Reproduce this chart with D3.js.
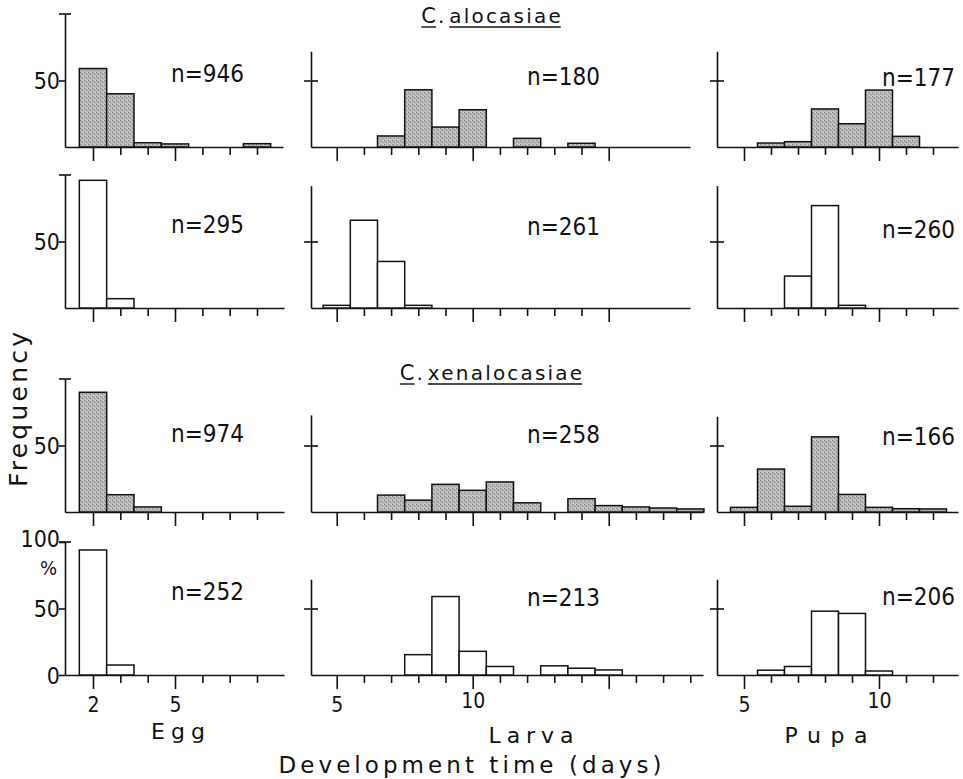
<!DOCTYPE html>
<html>
<head>
<meta charset="utf-8">
<script src="https://cdn.jsdelivr.net/npm/d3@7"></script>
<style>
  body { margin: 0; background: #fff; }
  svg { display: block; }
  .num { font-family: "Liberation Sans Narrow", "Arial Narrow", "DejaVu Sans Condensed", sans-serif; fill: #111; }
  .word { font-family: "DejaVu Sans", sans-serif; fill: #111; }
</style>
</head>
<body>
<svg id="chart"></svg>
<script>
// days (bar centres) per stage
const eggDays = [2, 3, 4, 5, 6, 7, 8];
const larvaDays = [5, 6, 7, 8, 9, 10, 11, 12, 13, 14, 15, 16, 17, 18];
const pupaDays = [5, 6, 7, 8, 9, 10, 11, 12];

// tick marks on the x axes
const eggTicks = [2, 3, 4, 5, 6, 7, 8];
const larvaTicksTop = [5, 6, 7, 8, 9, 10, 11, 12, 13, 14, 15];
const larvaTicksBottom = [5, 6, 7, 8, 9, 10, 11, 12, 13, 14, 15, 16, 17, 18];
const pupaTicks = [5, 6, 7, 8, 9, 10, 11, 12];

// frequency (%) - C. alocasiae (shaded, open), C. xenalocasiae (shaded, open)
const eggAlocasiaeShaded = [59, 40, 3.2, 2.3, 0, 0, 2.5];
const eggAlocasiaeOpen = [96, 7, 0, 0, 0, 0, 0];
const eggXenalocasiaeShaded = [90, 13, 3.8, 0, 0, 0, 0];
const eggXenalocasiaeOpen = [94, 7.5, 0, 0, 0, 0, 0];

const larvaAlocasiaeShaded = [0, 0, 8.3, 43, 15, 28, 0, 6.5, 0, 2.8, 0, 0, 0, 0];
const larvaAlocasiaeOpen = [2, 66, 35, 2, 0, 0, 0, 0, 0, 0, 0, 0, 0, 0];
const larvaXenalocasiaeShaded = [0, 0, 12.7, 8.9, 20.8, 16.3, 22.6, 6.9, 0, 10, 4.8, 3.8, 3, 2.3];
const larvaXenalocasiaeOpen = [0, 0, 0, 15.3, 59, 17.8, 6.4, 0, 6.9, 5.1, 3.8, 0, 0, 0];

const pupaAlocasiaeShaded = [0, 3, 4, 28.6, 17.5, 42.8, 8, 0];
const pupaAlocasiaeOpen = [0, 0, 24, 77, 2, 0, 0, 0];
const pupaXenalocasiaeShaded = [3.5, 32.3, 4.3, 56.5, 13.2, 3.5, 2.5, 2.3];
const pupaXenalocasiaeOpen = [0, 3.6, 6.4, 48, 46.3, 3, 0, 0];

// sample sizes
const eggN = [946, 295, 974, 252];
const larvaN = [180, 261, 258, 213];
const pupaN = [177, 260, 166, 206];

// layout
const width = 963, height = 779;
const rowBase = [147, 308, 512, 675];
const pxPer100 = 133;
const nLabelY = [[82, 85, 86], [233, 235, 238], [442, 443, 445], [600, 606, 605]];

const columns = [
  { days: eggDays, rows: [eggAlocasiaeShaded, eggAlocasiaeOpen, eggXenalocasiaeShaded, eggXenalocasiaeOpen],
    n: eggN, ticks: [eggTicks, eggTicks, eggTicks, eggTicks], major: [2, 5], labels: [2, 5],
    refDays: [2, 5], refPx: [93, 175], xStart: 65, xEnd: [283, 284, 284, 284], nX: 244,
    axisTop: [100, 100, 100, 100] },
  { days: larvaDays, rows: [larvaAlocasiaeShaded, larvaAlocasiaeOpen, larvaXenalocasiaeShaded, larvaXenalocasiaeOpen],
    n: larvaN, ticks: [larvaTicksTop, larvaTicksTop, larvaTicksBottom, larvaTicksBottom], major: [5, 10, 15], labels: [5, 10],
    refDays: [5, 10], refPx: [336.7, 472.7], xStart: 311, xEnd: [690, 690, 703, 703], nX: 600,
    axisTop: [72, 92, 73, 72] },
  { days: pupaDays, rows: [pupaAlocasiaeShaded, pupaAlocasiaeOpen, pupaXenalocasiaeShaded, pupaXenalocasiaeOpen],
    n: pupaN, ticks: [pupaTicks, pupaTicks, pupaTicks, pupaTicks], major: [5, 10], labels: [5, 10],
    refDays: [5, 10], refPx: [744, 879], xStart: 717, xEnd: [958, 958, 958, 958], nX: 955,
    axisTop: [72, 92, 72, 72] }
];

const svg = d3.select("#chart")
  .attr("width", width)
  .attr("height", height);

svg.append("rect")
  .attr("width", width)
  .attr("height", height)
  .attr("fill", "#fff");

// stippled grey fill
const pat = svg.append("defs").append("pattern")
  .attr("id", "stipple")
  .attr("width", 4)
  .attr("height", 4)
  .attr("patternUnits", "userSpaceOnUse");
pat.append("rect").attr("width", 4).attr("height", 4).attr("fill", "#b8b8b8");
[[0, 0, "#858585"], [2, 2, "#909090"], [3, 0, "#d6d6d6"], [1, 3, "#d2d2d2"], [1, 1, "#a0a0a0"]]
  .forEach(([px, py, c]) => pat.append("rect").attr("x", px).attr("y", py).attr("width", 1).attr("height", 1).attr("fill", c));

columns.forEach((col, ci) => {
  col.rows.forEach((values, ri) => {
    const base = rowBase[ri];
    const xEnd = col.xEnd[ri];
    const ref = d3.scaleLinear().domain(col.refDays).range(col.refPx);
    const x = d3.scaleLinear()
      .domain([ref.invert(col.xStart), ref.invert(xEnd)])
      .range([col.xStart, xEnd]);
    const y = d3.scaleLinear().domain([0, 100]).range([base, base - pxPer100]);
    const top = col.axisTop[ri];
    const yAxisScale = y.copy().domain([0, top]).range([base, y(top)]);
    const bottomRow = ri === 3;
    const g = svg.append("g");

    // x axis
    const gx = g.append("g")
      .attr("transform", `translate(0,${base})`)
      .call(d3.axisBottom(x)
        .tickValues(col.ticks[ri])
        .tickSize(8)
        .tickSizeOuter(0)
        .tickFormat(d => (bottomRow && col.labels.includes(d)) ? d : ""))
      .attr("font-family", null)
      .attr("font-size", null);
    gx.selectAll("path, line").attr("stroke", "#111").attr("stroke-width", 1.6);
    gx.selectAll(".tick line").filter(d => col.major.includes(d)).attr("y2", 14);
    gx.selectAll(".tick text")
      .attr("class", "num")
      .attr("dy", null)
      .attr("y", d => d >= 10 ? 33 : 37)
      .style("font-size", "21px");

    // y axis
    const yTicks = ci === 0 && bottomRow ? [0, 50, 100] : [50];
    const gy = g.append("g")
      .attr("transform", `translate(${col.xStart},0)`)
      .call(d3.axisLeft(yAxisScale)
        .tickValues(yTicks)
        .tickSize(6)
        .tickSizeOuter(0)
        .tickPadding(-1)
        .tickFormat(d => ci === 0 ? d : ""))
      .attr("font-family", null)
      .attr("font-size", null);
    gy.selectAll("path, line").attr("stroke", "#111").attr("stroke-width", 1.6);
    if (ci > 0) gy.selectAll(".tick line").attr("x1", 7).attr("x2", -7);
    gy.selectAll(".tick text")
      .attr("class", "num")
      .attr("dy", d => d === 100 ? "0.2em" : "0.36em")
      .style("font-size", "23px");
    if (ci === 0) {
      gy.append("line")
        .attr("x1", -6).attr("x2", 6)
        .attr("y1", y(100)).attr("y2", y(100))
        .attr("stroke", "#111").attr("stroke-width", 1.6);
    }
    if (ci === 0 && bottomRow) {
      gy.append("text")
        .attr("class", "num")
        .attr("x", -8)
        .attr("y", y(100) + 33)
        .attr("text-anchor", "end")
        .style("font-size", "20px")
        .text("%");
    }

    // bars
    const bars = col.days.map((d, i) => ({ day: d, value: values[i] })).filter(d => d.value > 0);
    g.selectAll("rect.bar")
      .data(bars)
      .join("rect")
      .attr("class", "bar")
      .attr("x", d => x(d.day - 0.5))
      .attr("width", d => x(d.day + 0.5) - x(d.day - 0.5))
      .attr("y", d => y(d.value))
      .attr("height", d => base - y(d.value))
      .attr("fill", ri % 2 === 0 ? "url(#stipple)" : "#fff")
      .attr("stroke", "#111")
      .attr("stroke-width", 1.5);

    // sample size
    g.append("text")
      .attr("class", "num")
      .attr("x", col.nX)
      .attr("y", nLabelY[ri][ci])
      .attr("text-anchor", "end")
      .style("font-size", "24px")
      .text("n=" + col.n[ri]);
  });
});

// species titles with underlines
function speciesTitle(species, baseline) {
  const ls = 2.2;
  const t = svg.append("g");
  const c = t.append("text").attr("class", "word").attr("x", 0).attr("y", baseline)
    .style("font-size", "21px").text("C");
  const cw = c.node().getComputedTextLength();
  t.append("text").attr("class", "word").attr("x", cw + 2).attr("y", baseline)
    .style("font-size", "20px").text(".");
  const s = t.append("text").attr("class", "word").attr("x", 28).attr("y", baseline)
    .style("font-size", "20px").style("letter-spacing", ls + "px").text(species);
  const sw = s.node().getComputedTextLength() - ls;
  t.append("line").attr("x1", 0).attr("x2", cw).attr("y1", baseline + 4).attr("y2", baseline + 4)
    .attr("stroke", "#111").attr("stroke-width", 1.4);
  t.append("line").attr("x1", 28).attr("x2", 28 + sw).attr("y1", baseline + 4).attr("y2", baseline + 4)
    .attr("stroke", "#111").attr("stroke-width", 1.4);
  const total = 28 + sw;
  t.attr("transform", `translate(${491 - total / 2},0)`);
}
speciesTitle("alocasiae", 23);
speciesTitle("xenalocasiae", 380);

// stage and axis labels
const stageLabels = [
  { text: "Egg", x: 178, y: 739, len: 54 },
  { text: "Larva", x: 531, y: 743, len: 85 },
  { text: "Pupa", x: 826, y: 743, len: 83 }
];
svg.selectAll("text.stage")
  .data(stageLabels)
  .join("text")
  .attr("class", "stage word")
  .attr("x", d => d.x)
  .attr("y", d => d.y)
  .attr("text-anchor", "middle")
  .attr("textLength", d => d.len)
  .attr("lengthAdjust", "spacing")
  .style("font-size", "22px")
  .text(d => d.text);

svg.append("text")
  .attr("class", "word")
  .attr("x", 470)
  .attr("y", 773)
  .attr("text-anchor", "middle")
  .attr("textLength", 383)
  .attr("lengthAdjust", "spacing")
  .style("font-size", "23px")
  .text("Development time (days)");

svg.append("text")
  .attr("class", "word")
  .attr("transform", "translate(27,487) rotate(-90)")
  .attr("textLength", 155)
  .attr("lengthAdjust", "spacing")
  .style("font-size", "25px")
  .text("Frequency");
</script>
</body>
</html>
